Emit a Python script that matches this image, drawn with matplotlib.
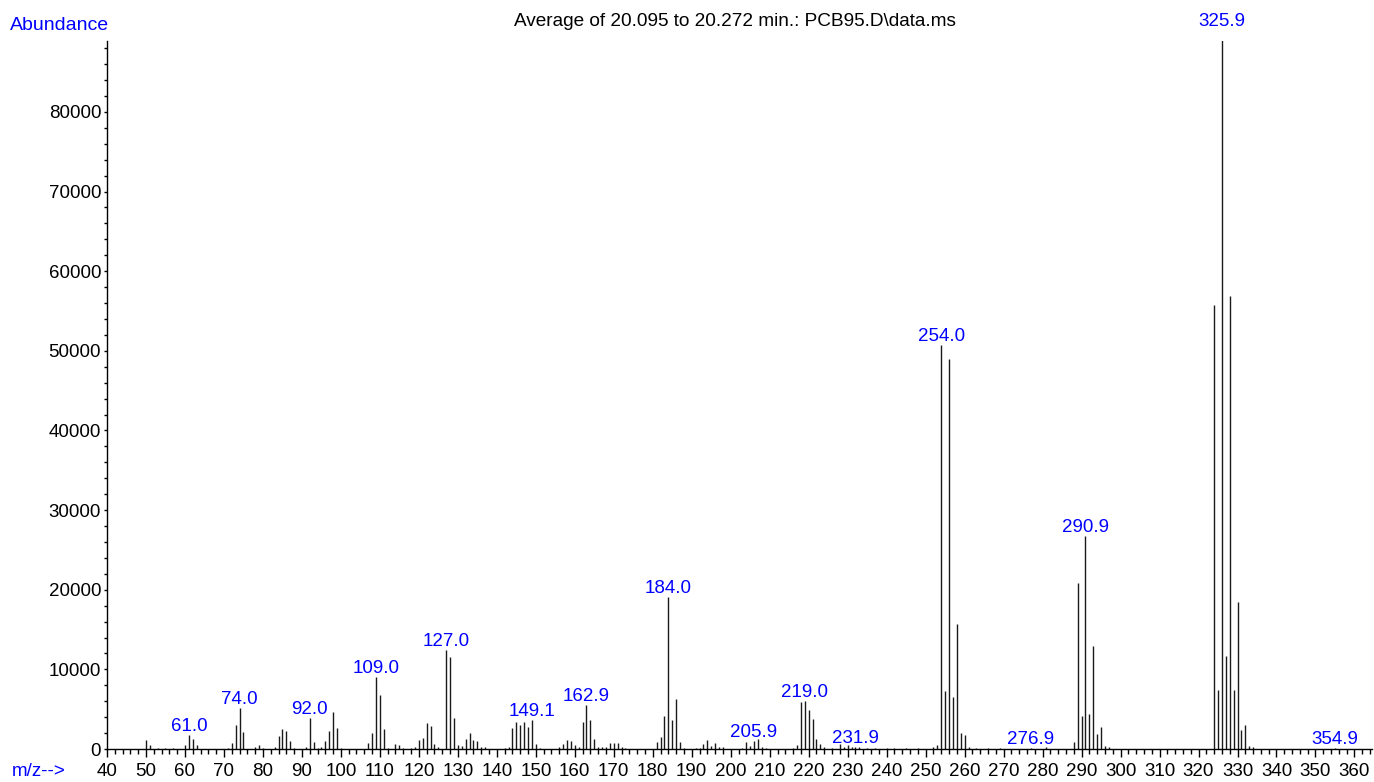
import matplotlib
matplotlib.use('Agg')
import matplotlib.pyplot as plt
from matplotlib.ticker import MultipleLocator

plt.rcParams['font.family'] = ['Liberation Sans', 'DejaVu Sans']

# centroided spectrum: m/z and abundance
mz = [50, 51, 53, 55, 57, 60, 61.0, 62, 63, 71, 72, 73, 74.0, 75, 78, 79, 80,
      83, 84, 85, 86, 87, 88, 91, 92.0, 93, 94, 95, 96, 97, 98, 99, 100,
      107, 108, 109.0, 110, 111, 112, 114, 115, 116, 118, 119, 120, 121, 122,
      123, 124, 125, 127.0, 128, 129, 130, 131, 132, 133, 134, 135, 136, 137,
      142, 143, 144, 145, 146, 147, 148, 149.1, 150, 151, 156, 157, 158, 159,
      160, 161, 162, 162.9, 164, 165, 166, 167, 168, 169, 170, 171, 172, 173,
      181, 182, 183, 184.0, 185, 186, 187, 188, 191, 192, 193, 194, 195, 196,
      197, 198, 203, 204, 205, 205.9, 207, 208, 209,
      216, 217, 218, 219.0, 220, 221, 222, 223, 224, 226, 228, 229, 230, 231,
      231.9, 233, 235, 237, 240, 242, 245, 248, 252, 253, 254.0, 255, 256, 257,
      258, 259, 260, 261, 263, 266, 269,
      276.9, 281, 288, 289, 290, 290.9, 292, 293, 294, 295, 296, 297,
      324, 325, 325.9, 327, 328, 329, 330, 331, 332, 333, 334, 354.9]
abundance = [1100, 450, 100, 150, 100, 550, 1800, 1200, 450, 100, 700, 3000, 5200, 2100, 300, 550, 150,
             200, 1600, 2500, 2200, 1000, 150, 200, 3900, 900, 150, 200, 950, 2200, 4600, 2600, 150,
             700, 2000, 9100, 6800, 2550, 170, 600, 550, 150, 150, 300, 1100, 1400, 3300,
             2900, 650, 200, 12400, 11600, 3900, 450, 350, 1200, 2000, 1100, 1050, 250, 200,
             100, 250, 2650, 3350, 3050, 3450, 2800, 3650, 600, 100, 300, 650, 1150, 1050,
             450, 250, 3400, 5500, 3600, 1200, 250, 250, 200, 800, 700, 700, 250, 150,
             900, 1550, 4100, 19100, 3650, 6250, 850, 100, 150, 170, 650, 1150, 400, 700,
             250, 200, 170, 900, 400, 950, 1300, 300, 150,
             170, 500, 5950, 6050, 4850, 3750, 1250, 650, 250, 150, 650, 200, 450, 200,
             300, 200, 150, 100, 150, 100, 100, 100, 200, 450, 50700, 7300, 49000, 6550,
             15650, 2050, 1700, 200, 100, 100, 100,
             100, 250, 900, 20800, 4100, 26700, 4350, 12950, 1900, 2800, 350, 200,
             55800, 7350, 90300, 11650, 56900, 7350, 18400, 2350, 3000, 350, 200, 100]

labeled = [61.0, 74.0, 92.0, 109.0, 127.0, 149.1, 162.9, 184.0, 205.9, 219.0,
           231.9, 254.0, 276.9, 290.9, 325.9, 354.9]

title = r'Average of 20.095 to 20.272 min.: PCB95.D\data.ms'

fig = plt.figure(figsize=(13.74, 7.82), dpi=100)
ax = fig.add_axes([107 / 1374, 33 / 782, 1265 / 1374, 708 / 782])

# the base peak runs past the top of the scale and gets cut at the axis top
ax.vlines(mz, 0, abundance, colors='#1a1a1a', linewidth=1.0)

for m in labeled:
    a = abundance[mz.index(m)]
    ax.annotate('%.1f' % m, (m, a), xytext=(0, 0), textcoords='offset points',
                ha='center', va='bottom', color='#0000ff', fontsize=13.5,
                annotation_clip=False)

ax.set_xlim(40, 364.5)
ax.set_ylim(0, 88900)

ax.xaxis.set_major_locator(MultipleLocator(10))
ax.xaxis.set_minor_locator(MultipleLocator(2))
ax.yaxis.set_major_locator(MultipleLocator(10000))
ax.yaxis.set_minor_locator(MultipleLocator(2000))

ax.tick_params(axis='x', which='major', direction='out', length=5.5, width=1.0,
               labelsize=13.5, pad=4.5)
ax.tick_params(axis='x', which='minor', direction='out', length=3.5, width=1.0)
ax.tick_params(axis='y', which='both', direction='out', length=2.2, width=1.0,
               labelsize=13.5, pad=2)

for side in ['top', 'right']:
    ax.spines[side].set_visible(False)
ax.spines['left'].set_linewidth(1.0)
ax.spines['bottom'].set_linewidth(1.0)

fig.text(10 / 1374, 1 - 25 / 782, 'Abundance', color='#0000ff', fontsize=14,
         ha='left', va='center')
fig.text(12 / 1374, 1 - 771 / 782, 'm/z-->', color='#0000ff', fontsize=13.5,
         ha='left', va='center')
fig.text(735 / 1374, 1 - 21 / 782, title, color='black', fontsize=13.7,
         ha='center', va='center')

fig.savefig('out.png', dpi=100)
